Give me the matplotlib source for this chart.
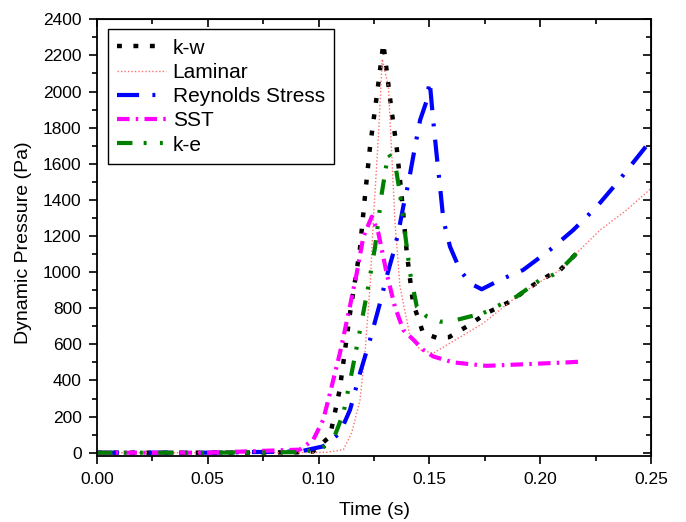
import matplotlib
matplotlib.use("Agg")
import matplotlib.pyplot as plt
from matplotlib.ticker import MultipleLocator, FormatStrFormatter

# k-w
kw_t = [0.0, 0.05, 0.09, 0.0975, 0.1051, 0.1095, 0.1142, 0.1186, 0.1209, 0.1232, 0.1265, 0.1292,
        0.1329, 0.1352, 0.1375, 0.1398, 0.1426, 0.1471, 0.1533, 0.1589, 0.1669, 0.1758,
        0.1864, 0.1969, 0.2044, 0.2090, 0.2179]
kw_p = [0, 0, 2, 7, 90, 348, 774, 1123, 1418, 1694, 2000, 2266,
        1897, 1694, 1418, 1106, 830, 664, 636, 640, 699, 773,
        837, 929, 985, 1012, 1123]

# Laminar
lam_t = [0.0, 0.05, 0.09, 0.1035, 0.1112, 0.1149, 0.1187, 0.1209, 0.1232, 0.1247, 0.1272, 0.1287,
         0.1315, 0.1330, 0.1344, 0.1367, 0.1413, 0.1458, 0.1517, 0.1593, 0.1743, 0.1894,
         0.2014, 0.2090, 0.2179, 0.2270, 0.2390, 0.25]
lam_p = [0, 0, 0, 2, 17, 109, 293, 551, 920, 1289, 1800, 2180,
         2026, 1657, 1289, 920, 643, 570, 551, 607, 717, 865,
         957, 1012, 1123, 1233, 1344, 1464]

# Reynolds Stress
rs_t = [0.0, 0.05, 0.0916, 0.1021, 0.1096, 0.1142, 0.1187, 0.1232, 0.1277, 0.1307, 0.1337,
        0.1359, 0.1382, 0.1405, 0.1435, 0.1458, 0.1488, 0.1501, 0.1517, 0.1532, 0.1548,
        0.1563, 0.1593, 0.1638, 0.1684, 0.1736, 0.1819, 0.1923, 0.2044, 0.2149, 0.2255,
        0.2345, 0.25]
rs_p = [0, 0, 7, 35, 109, 238, 441, 625, 828, 975, 1105,
        1215, 1362, 1492, 1694, 1842, 1950, 2060, 1842, 1657, 1473,
        1289, 1141, 1012, 938, 905, 957, 1012, 1123, 1233, 1362,
        1492, 1731]

# SST
sst_t = [0.0, 0.05, 0.0916, 0.0976, 0.1021, 0.1059, 0.1096, 0.1135, 0.1172, 0.1202, 0.1240,
         0.1270, 0.1307, 0.1344, 0.1382, 0.1428, 0.1472, 0.1517, 0.1608, 0.1758, 0.1969,
         0.2120, 0.2193]
sst_p = [0, 0, 17, 72, 183, 367, 551, 773, 994, 1196, 1307,
         1215, 994, 809, 680, 625, 570, 533, 500, 481, 492,
         500, 505]

# k-e
ke_t = [0.0, 0.05, 0.09, 0.1007, 0.1066, 0.1112, 0.1149, 0.1187, 0.1224, 0.1255, 0.1285,
        0.1314, 0.1345, 0.1367, 0.1390, 0.1413, 0.1443, 0.1488, 0.1548, 0.1593, 0.1743,
        0.1894, 0.1999, 0.2058, 0.2090, 0.2179]
ke_p = [0, 0, 3, 17, 72, 220, 441, 680, 920, 1141, 1436,
        1657, 1602, 1436, 1215, 994, 809, 754, 726, 726, 773,
        865, 957, 985, 1012, 1123]

plt.rcParams["font.family"] = ["Liberation Sans", "DejaVu Sans"]

fig = plt.figure(figsize=(6.86, 5.22), dpi=100)
ax = fig.add_axes([0.1414, 0.1255, 0.8076, 0.8375])

ax.plot(kw_t, kw_p, color="black", lw=3.2, linestyle=(0, (1.1, 2.6)), label="k-w")
ax.plot(lam_t, lam_p, color="#ff7070", lw=1, linestyle=(0, (1, 1.5)), label="Laminar")
ax.plot(rs_t, rs_p, color="blue", lw=3, linestyle=(0, (5.3, 3.2, 0.7, 3.2)), label="Reynolds Stress")
ax.plot(sst_t, sst_p, color="magenta", lw=3, linestyle=(0, (3, 1.5, 0.6, 1.5)), label="SST")
ax.plot(ke_t, ke_p, color="#008000", lw=3, linestyle=(0, (3.7, 2.7, 0.7, 3.2, 0.7, 3.7)), label="k-e")

ax.set_xlim(0, 0.25)
ax.set_ylim(-21, 2400)
ax.xaxis.set_major_locator(MultipleLocator(0.05))
ax.xaxis.set_minor_locator(MultipleLocator(0.025))
ax.yaxis.set_major_locator(MultipleLocator(200))
ax.yaxis.set_minor_locator(MultipleLocator(100))
ax.xaxis.set_major_formatter(FormatStrFormatter("%.2f"))

ax.tick_params(which="both", direction="out", labelsize=12.5, width=1.2, pad=5)
ax.tick_params(which="major", length=6)
ax.tick_params(which="minor", length=3.5)
for s in ax.spines.values():
    s.set_linewidth(1.3)

# inward ticks on top and right, like Origin
top = ax.secondary_xaxis("top")
top.xaxis.set_major_locator(MultipleLocator(0.05))
top.xaxis.set_minor_locator(MultipleLocator(0.025))
top.tick_params(which="both", direction="in", labeltop=False, width=1.2)
top.tick_params(which="major", length=6)
top.tick_params(which="minor", length=3.5)
right = ax.secondary_yaxis("right")
right.yaxis.set_major_locator(MultipleLocator(200))
right.yaxis.set_minor_locator(MultipleLocator(100))
right.tick_params(which="both", direction="in", labelright=False, width=1.2)
right.tick_params(which="major", length=6)
right.tick_params(which="minor", length=3.5)

ax.set_xlabel("Time (s)", fontsize=14)
ax.set_ylabel("Dynamic Pressure (Pa)", fontsize=14)
ax.xaxis.set_label_coords(0.5, -0.105)
ax.yaxis.set_label_coords(-0.117, 0.49)

leg = ax.legend(loc="upper left", bbox_to_anchor=(0.0199, 0.977), fontsize=15,
                fancybox=False, edgecolor="black", framealpha=1,
                handlelength=2.35, labelspacing=0.25, borderpad=0.45, handletextpad=0.3,
                borderaxespad=0)
leg.get_frame().set_linewidth(1.0)

fig.savefig("out.png", dpi=100)
